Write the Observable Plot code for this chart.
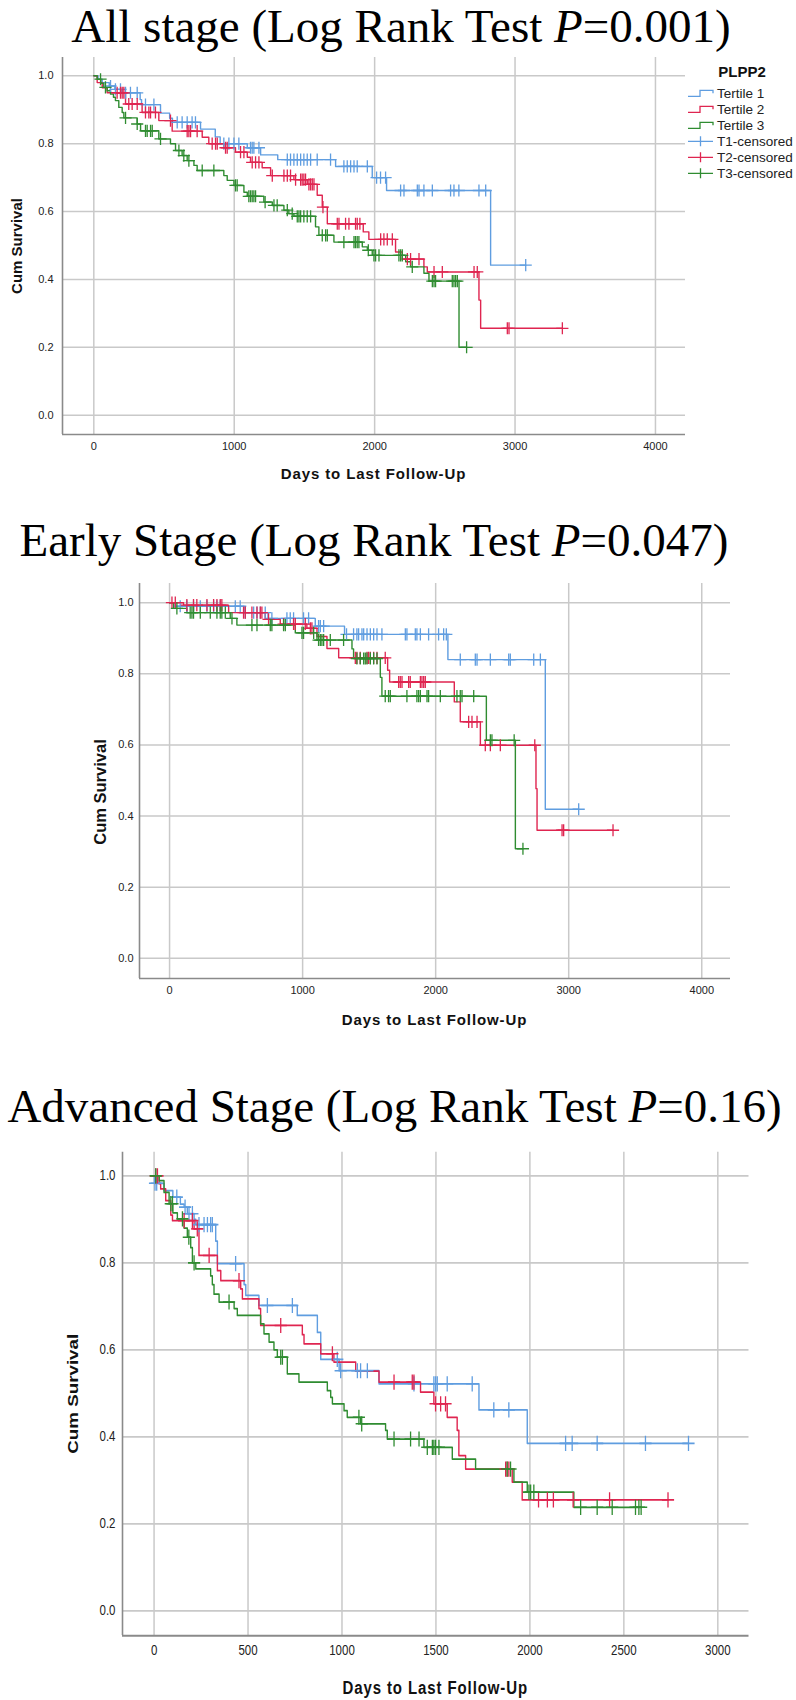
<!DOCTYPE html>
<html>
<head>
<meta charset="utf-8">
<script src="https://cdn.jsdelivr.net/npm/d3@7"></script>
<script src="https://cdn.jsdelivr.net/npm/@observablehq/plot@0.6"></script>
<style>
  html, body { margin: 0; padding: 0; background: #fff; }
  body { width: 796px; height: 1700px; position: relative; overflow: hidden;
         font-family: "Liberation Sans", Arial, sans-serif; }
  .title { position: absolute; width: 800px; text-align: center; white-space: nowrap;
           font-family: "Liberation Serif", "Times New Roman", serif; font-size: 47px;
           line-height: 52px; color: #000; }
  .panel { position: absolute; left: 0; width: 796px; }
  .panel svg { position: absolute; left: 0; top: 0; overflow: visible; }
  .xlab { position: absolute; font-weight: bold; font-size: 15px; letter-spacing: 0.9px;
          color: #111; white-space: nowrap; transform: translate(-50%, -50%); }
  .ylab { position: absolute; font-weight: bold; font-size: 15px; color: #111; white-space: nowrap;
          transform: translate(-50%, -50%) rotate(-90deg); }
</style>
</head>
<body>
<script>
// ---------------- Data ----------------
const groups = ["Tertile 1", "Tertile 2", "Tertile 3"];
const groupColors = ["#5f9de0", "#df2550", "#2f8c31"];
const legendLabels = ["Tertile 1", "Tertile 2", "Tertile 3", "T1-censored", "T2-censored", "T3-censored"];
const yTicks = [0, 0.2, 0.4, 0.6, 0.8, 1.0];
const xTicksLong = [0, 1000, 2000, 3000, 4000];
const xTicksAdv = [0, 500, 1000, 1500, 2000, 2500, 3000];

// All stage
const allT1Time = [0,30,60,110,150,200,330,340,475,540,560,760,865,900,1093,1188,1310,1722,1983,2085,2826];
const allT1Surv = [1,0.99,0.98,0.97,0.96,0.95,0.93,0.915,0.89,0.875,0.863,0.843,0.82,0.80,0.788,0.767,0.753,0.733,0.70,0.662,0.442];
const allT1Cens = [119,154,190,226,261,309,368,428,594,629,665,700,724,926,962,998,1033,1116,1128,1140,1176,1378,1401,1425,1449,1473,1496,1520,1544,1591,1686,1781,1805,1829,1853,1876,1948,2014,2042,2078,2185,2209,2304,2316,2351,2411,2541,2565,2600,2743,2791,3076];

const allT2Time = [0,24,60,95,226,344,463,558,772,819,926,1009,1093,1116,1199,1259,1425,1520,1591,1627,1663,1919,1959,2149,2197,2351,2375,2743,2755];
const allT2Surv = [1,0.98,0.965,0.95,0.917,0.892,0.868,0.837,0.819,0.80,0.788,0.775,0.76,0.745,0.729,0.706,0.694,0.68,0.648,0.613,0.564,0.54,0.518,0.481,0.46,0.437,0.422,0.339,0.256];
const allT2Cens = [166,190,202,214,249,273,309,368,392,404,439,546,665,677,689,736,843,867,879,938,950,1045,1069,1128,1152,1176,1271,1354,1378,1401,1437,1473,1484,1496,1508,1532,1544,1556,1568,1632,1734,1746,1793,1817,1864,1876,1895,2043,2066,2090,2126,2233,2256,2316,2423,2482,2708,2731,2945,2957,3337];

const allT3Time = [0,24,50,71,95,119,140,154,178,202,214,309,333,463,546,582,629,665,713,736,926,950,998,1069,1093,1211,1271,1354,1389,1425,1579,1603,1710,1912,1948,1983,2221,2256,2351,2387,2601];
const allT3Surv = [1,0.99,0.978,0.966,0.956,0.946,0.937,0.927,0.907,0.892,0.876,0.858,0.838,0.814,0.80,0.78,0.765,0.75,0.736,0.721,0.706,0.692,0.677,0.657,0.645,0.628,0.618,0.604,0.594,0.586,0.555,0.53,0.51,0.496,0.486,0.471,0.452,0.437,0.418,0.395,0.20];
const allT3Cens = [48,83,226,309,368,380,404,416,475,606,641,677,772,855,1009,1021,1104,1116,1128,1140,1152,1220,1283,1306,1378,1413,1449,1461,1473,1496,1520,1544,1627,1651,1663,1781,1853,1864,1876,1888,1955,1995,2007,2031,2173,2185,2197,2268,2411,2423,2434,2553,2565,2577,2589,2655];

// Early stage
const earlyT1Time = [0,43,560,740,1095,1315,2092,2824];
const earlyT1Surv = [1,0.99,0.972,0.956,0.934,0.911,0.84,0.419];
const earlyT1Cens = [80,130,180,231,281,331,356,381,494,531,569,632,657,682,719,769,882,907,932,1007,1045,1120,1133,1158,1330,1383,1408,1421,1446,1459,1484,1509,1534,1559,1596,1772,1784,1847,1859,1885,1947,2022,2060,2080,2185,2298,2311,2411,2549,2561,2737,2787,3075];

const earlyT2Time = [0,105,444,719,832,1032,1108,1183,1271,1639,1654,2140,2185,2336,2754,2762];
const earlyT2Surv = [1,0.993,0.972,0.953,0.94,0.928,0.905,0.871,0.845,0.81,0.777,0.721,0.665,0.599,0.477,0.36];
const earlyT2Cens = [18,43,130,180,205,281,331,356,381,393,556,569,619,657,682,694,744,857,932,945,1020,1058,1070,1396,1408,1433,1484,1496,1509,1534,1559,1621,1722,1734,1747,1797,1809,1885,1897,1910,1922,2248,2273,2311,2373,2411,2486,2745,2950,2962,3333];

const earlyT3Time = [0,30,130,456,506,945,1108,1371,1383,1584,1596,2381,2599];
const earlyT3Surv = [1,0.984,0.972,0.956,0.937,0.915,0.895,0.87,0.843,0.79,0.737,0.613,0.308];
const earlyT3Cens = [55,155,168,180,231,306,356,381,393,419,469,619,657,757,769,857,870,995,1007,1083,1120,1133,1145,1158,1208,1308,1408,1433,1459,1471,1484,1509,1534,1559,1621,1646,1659,1784,1859,1872,1885,1935,1947,2035,2160,2185,2198,2286,2411,2423,2590,2656];

// Advanced stage
const advT1Time = [0,2,53,100,140,160,177,213,222,328,337,479,488,558,762,869,887,985,1197,1729,1986];
const advT1Surv = [1,0.983,0.966,0.951,0.935,0.928,0.913,0.9,0.888,0.85,0.798,0.75,0.725,0.702,0.679,0.64,0.578,0.552,0.522,0.462,0.385];
const advT1Cens = [5,14,121,165,186,204,239,266,284,301,310,434,603,736,975,993,1082,1099,1135,1383,1489,1498,1507,1560,1693,1808,1888,2190,2225,2358,2615,2844];

const advT2Time = [0,27,35,62,89,98,213,239,337,355,461,470,558,567,789,798,887,957,1073,1197,1418,1489,1560,1613,1622,1658,1906,1959];
const advT2Surv = [1,0.982,0.97,0.943,0.91,0.897,0.878,0.817,0.782,0.759,0.74,0.717,0.695,0.656,0.635,0.614,0.591,0.572,0.551,0.526,0.503,0.476,0.445,0.415,0.357,0.326,0.296,0.255];
const advT2Cens = [9,18,160,204,230,293,452,674,949,1277,1374,1383,1498,1525,1551,1871,1879,1888,2046,2093,2125,2230,2424,2735];

const advT3Time = [0,27,53,80,100,124,160,177,195,204,222,301,310,319,346,426,443,567,585,612,638,656,709,771,922,940,949,1011,1028,1099,1232,1241,1436,1587,1711,1915,1986,2234];
const advT3Surv = [1,0.989,0.962,0.936,0.915,0.901,0.88,0.859,0.835,0.80,0.786,0.77,0.75,0.728,0.71,0.695,0.679,0.66,0.637,0.618,0.6,0.583,0.545,0.526,0.506,0.491,0.476,0.46,0.445,0.43,0.415,0.395,0.376,0.349,0.326,0.296,0.273,0.238];
const advT3Cens = [9,89,98,151,185,213,399,674,683,1090,1105,1277,1365,1410,1454,1481,1489,1498,1516,1879,1897,1995,2004,2021,2270,2358,2438,2562,2580,2592];

// ---------------- Helpers ----------------
function survAt(times, surv, t) {
  let s = surv[0];
  for (let i = 0; i < times.length; i++) if (times[i] <= t) s = surv[i];
  return s;
}
function buildRows(series) {
  const lines = [], cens = [];
  series.forEach(([g, times, surv, c]) => {
    times.forEach((t, i) => lines.push({t, s: surv[i], g}));
    lines.push({t: Math.max(...c), s: surv[surv.length - 1], g});
    c.forEach(t => cens.push({t, s: survAt(times, surv, t), g}));
  });
  return {lines, cens};
}

const yDomain = [-0.057, 1.054];

function makePanel(cfg) {
  const {lines, cens} = buildRows(cfg.series);
  const div = document.createElement("div");
  div.className = "panel";
  div.style.top = cfg.top + "px";
  div.style.height = cfg.height + "px";
  if (cfg.scaleY !== 1) {
    div.style.transform = `scaleY(${cfg.scaleY})`;
    div.style.transformOrigin = "0 0";
  }
  const chart = Plot.plot({
    width: 796,
    height: cfg.height,
    marginTop: cfg.mt, marginBottom: cfg.mb, marginLeft: cfg.ml, marginRight: cfg.mr,
    style: {fontFamily: '"Liberation Sans", Arial, sans-serif', fontSize: cfg.fs + "px",
            color: "#222", background: "transparent", overflow: "visible"},
    x: {domain: cfg.xDomain, ticks: cfg.xTicks, tickSize: 0, tickPadding: cfg.xPad, label: null,
        tickFormat: d => String(d)},
    y: {domain: yDomain, ticks: yTicks, tickSize: 0, tickPadding: cfg.yPad, label: null,
        tickFormat: d3.format(".1f")},
    color: {domain: groups, range: groupColors},
    marks: [
      Plot.ruleX(cfg.xTicks, {stroke: "#c9c9c9", strokeWidth: 1.5}),
      Plot.ruleY(yTicks, {stroke: "#c9c9c9", strokeWidth: 1.5}),
      Plot.ruleX([cfg.xDomain[0]], {stroke: "#8a8a8a", strokeWidth: 1.6}),
      Plot.ruleY([yDomain[0]], {stroke: "#8a8a8a", strokeWidth: 1.6}),
      Plot.line(lines, {x: "t", y: "s", z: "g", stroke: "g", curve: "step-after", strokeWidth: 1.4}),
      Plot.dot(cens, {x: "t", y: "s", stroke: "g", symbol: "plus", r: 4, strokeWidth: 1.3})
    ]
  });
  div.appendChild(chart);
  // axis titles
  const xl = document.createElement("div");
  xl.className = "xlab";
  xl.textContent = "Days to Last Follow-Up";
  xl.style.left = ((cfg.ml + 796 - cfg.mr) / 2) + "px";
  xl.style.top = cfg.xLabY + "px";
  div.appendChild(xl);
  const yl = document.createElement("div");
  yl.className = "ylab";
  yl.textContent = "Cum Survival";
  yl.style.left = cfg.yLabX + "px";
  yl.style.top = (cfg.yLabY != null ? cfg.yLabY : (cfg.mt + cfg.height - cfg.mb) / 2) + "px";
  if (cfg.yLabSize) yl.style.fontSize = cfg.yLabSize + "px";
  div.appendChild(yl);
  document.body.appendChild(div);
}

function addTitle(text, pval, centerX, top) {
  const t = document.createElement("div");
  t.className = "title";
  t.style.left = (centerX - 400) + "px";
  t.style.top = top + "px";
  t.appendChild(document.createTextNode(text + " "));
  const p = document.createElement("i"); p.textContent = "P"; t.appendChild(p);
  t.appendChild(document.createTextNode("=" + pval + ")"));
  document.body.appendChild(t);
}

// ---------------- Panels ----------------
addTitle("All stage (Log Rank Test", "0.001", 401, 0);
makePanel({
  top: 40, height: 460, mt: 17, mb: 66, ml: 62, mr: 111, scaleY: 1,
  xDomain: [-223, 4214], xTicks: xTicksLong, fs: 11, xPad: 8, yPad: 9,
  xLabY: 433, yLabX: 16,
  series: [["Tertile 1", allT1Time, allT1Surv, allT1Cens],
           ["Tertile 2", allT2Time, allT2Surv, allT2Cens],
           ["Tertile 3", allT3Time, allT3Surv, allT3Cens]]
});

addTitle("Early Stage (Log Rank Test", "0.047", 374, 514);
makePanel({
  top: 570, height: 470, mt: 13, mb: 62, ml: 139, mr: 66, scaleY: 1,
  xDomain: [-226, 4216], xTicks: xTicksLong, fs: 11, xPad: 8, yPad: 6,
  xLabY: 449, yLabX: 100, yLabY: 222, yLabSize: 16.5,
  series: [["Tertile 1", earlyT1Time, earlyT1Surv, earlyT1Cens],
           ["Tertile 2", earlyT2Time, earlyT2Surv, earlyT2Cens],
           ["Tertile 3", earlyT3Time, earlyT3Surv, earlyT3Cens]]
});

addTitle("Advanced Stage (Log Rank Test", "0.16", 394.5, 1080);
makePanel({
  top: 1140, height: 448, mt: 9.4, mb: 52, ml: 122, mr: 47.5, scaleY: 1.25,
  xDomain: [-168, 3166], xTicks: xTicksAdv, fs: 11.5, xPad: 7, yPad: 7,
  xLabY: 437.6, yLabX: 72,
  series: [["Tertile 1", advT1Time, advT1Surv, advT1Cens],
           ["Tertile 2", advT2Time, advT2Surv, advT2Cens],
           ["Tertile 3", advT3Time, advT3Surv, advT3Cens]]
});

// ---------------- Legend (panel 1) ----------------
const lg = d3.select(document.body).append("svg")
  .attr("width", 796).attr("height", 200)
  .style("position", "absolute").style("left", "0px").style("top", "0px");
lg.append("text").attr("x", 742).attr("y", 72).attr("text-anchor", "middle").attr("dy", "0.35em")
  .attr("font-family", '"Liberation Sans", Arial, sans-serif').attr("font-weight", "bold")
  .attr("font-size", 15).attr("fill", "#111").text("PLPP2");
legendLabels.forEach((lab, i) => {
  const y = 93.3 + i * 16;
  const col = groupColors[i % 3];
  if (i < 3) {
    lg.append("path").attr("d", `M688,${y + 3}H700V${y - 3}H713V${y}`)
      .attr("fill", "none").attr("stroke", col).attr("stroke-width", 1.3);
  } else {
    lg.append("path").attr("d", `M688,${y}H713M700.5,${y - 5}V${y + 5}`)
      .attr("fill", "none").attr("stroke", col).attr("stroke-width", 1.3);
  }
  lg.append("text").attr("x", 717).attr("y", y).attr("dy", "0.35em")
    .attr("font-family", '"Liberation Sans", Arial, sans-serif')
    .attr("font-size", 13.5).attr("fill", "#222").text(lab);
});
</script>
</body>
</html>
